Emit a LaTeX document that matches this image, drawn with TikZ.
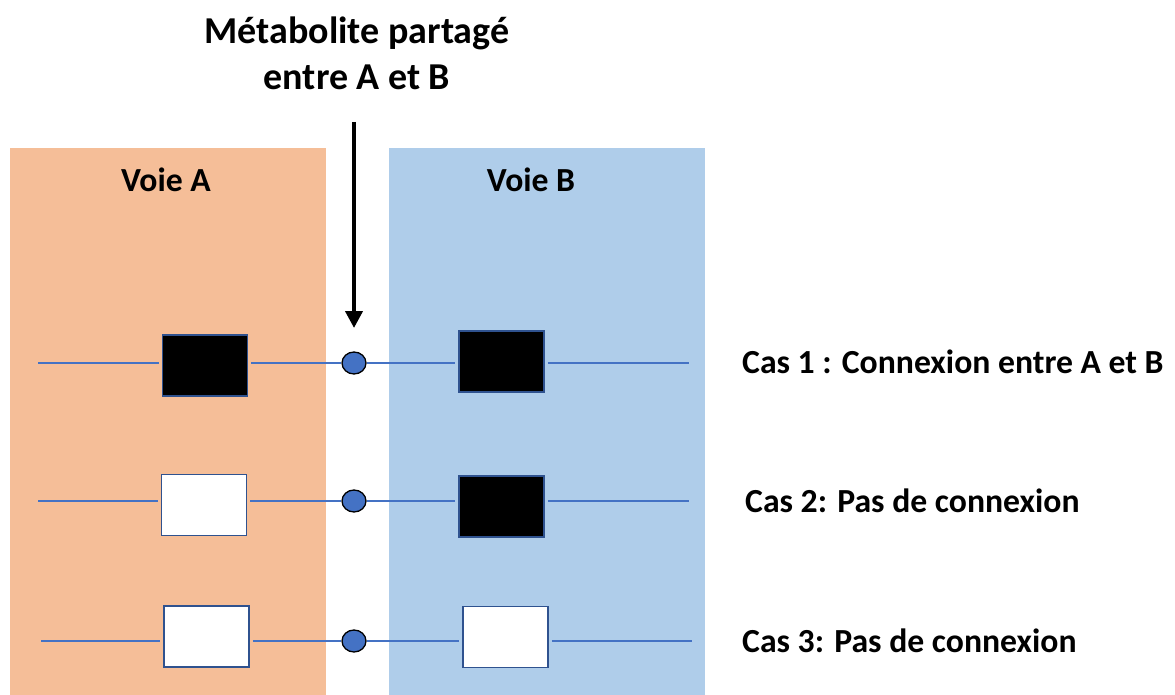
\documentclass[tikz,border=0pt]{standalone}
\usepackage{fontspec}
\setmainfont{Carlito}
\usetikzlibrary{arrows.meta,shapes.geometric}
\definecolor{panelA}{HTML}{F5BE98}
\definecolor{panelB}{HTML}{AFCDEA}
\definecolor{linecol}{HTML}{4472C4}
\definecolor{boxedge}{HTML}{2F528F}
\begin{document}
\begin{tikzpicture}[x=1pt,y=-1pt,
  stepbox/.style={draw=boxedge,line width=1.6pt,minimum width=85pt,minimum height=61pt,inner sep=0pt},
  filled/.style={stepbox,fill=black},
  empty/.style={stepbox,fill=white},
  metab/.style={ellipse,draw=black,line width=1.3pt,fill=linecol,minimum width=24pt,minimum height=22pt,inner sep=0pt},
  link/.style={draw=linecol,line width=1.3pt},
  lbl/.style={font=\bfseries\fontsize{33.7}{40}\selectfont,inner sep=0pt},
  cas/.style={lbl,anchor=west}]
\useasboundingbox (0,0) rectangle (1175,695);
\fill[panelA] (10,148) rectangle (326,695);
\fill[panelB] (389,148) rectangle (705,695);
\node[lbl] (voieA) at (166,180) {Voie A};
\node[lbl] (voieB) at (531,180) {Voie B};
\node[lbl,font=\bfseries\fontsize{38}{46}\selectfont,align=center] (title) at (357,53) {Métabolite partagé\\entre A et B};
% row 1
\coordinate (l1) at (38,363); \coordinate (r1) at (689,363);
\node[filled] (a1) at (205,365.5) {};
\node[metab] (c1) at (354,363) {};
\node[filled] (b1) at (501.5,361.5) {};
% row 2
\coordinate (l2) at (38,501); \coordinate (r2) at (689,501);
\node[empty] (a2) at (204,505) {};
\node[metab] (c2) at (354,501) {};
\node[filled] (b2) at (501.5,506.5) {};
% row 3
\coordinate (l3) at (41,641); \coordinate (r3) at (692,641);
\node[empty] (a3) at (206.5,636.5) {};
\node[metab] (c3) at (354,641) {};
\node[empty] (b3) at (505.5,637) {};
\foreach \i in {1,2,3}{
  \draw[link] (l\i) -- ([xshift=-3pt]a\i.west |- l\i);
  \draw[link] ([xshift=3pt]a\i.east |- l\i) -- (c\i.west);
  \draw[link] (c\i.east) -- ([xshift=-3pt]b\i.west |- l\i);
  \draw[link] ([xshift=3pt]b\i.east |- l\i) -- (r\i);
}
\coordinate (arrtop) at (354,122);
\draw[line width=4pt,-{Triangle[length=17pt,width=17pt]}] (arrtop) -- (354,328);
\node[cas] (cas1) at (742,362) {Cas 1 : Connexion entre A et B};
\node[cas] (cas2) at (745,501) {Cas 2: Pas de connexion};
\node[cas] (cas3) at (742,641) {Cas 3: Pas de connexion};
\end{tikzpicture}
\end{document}
